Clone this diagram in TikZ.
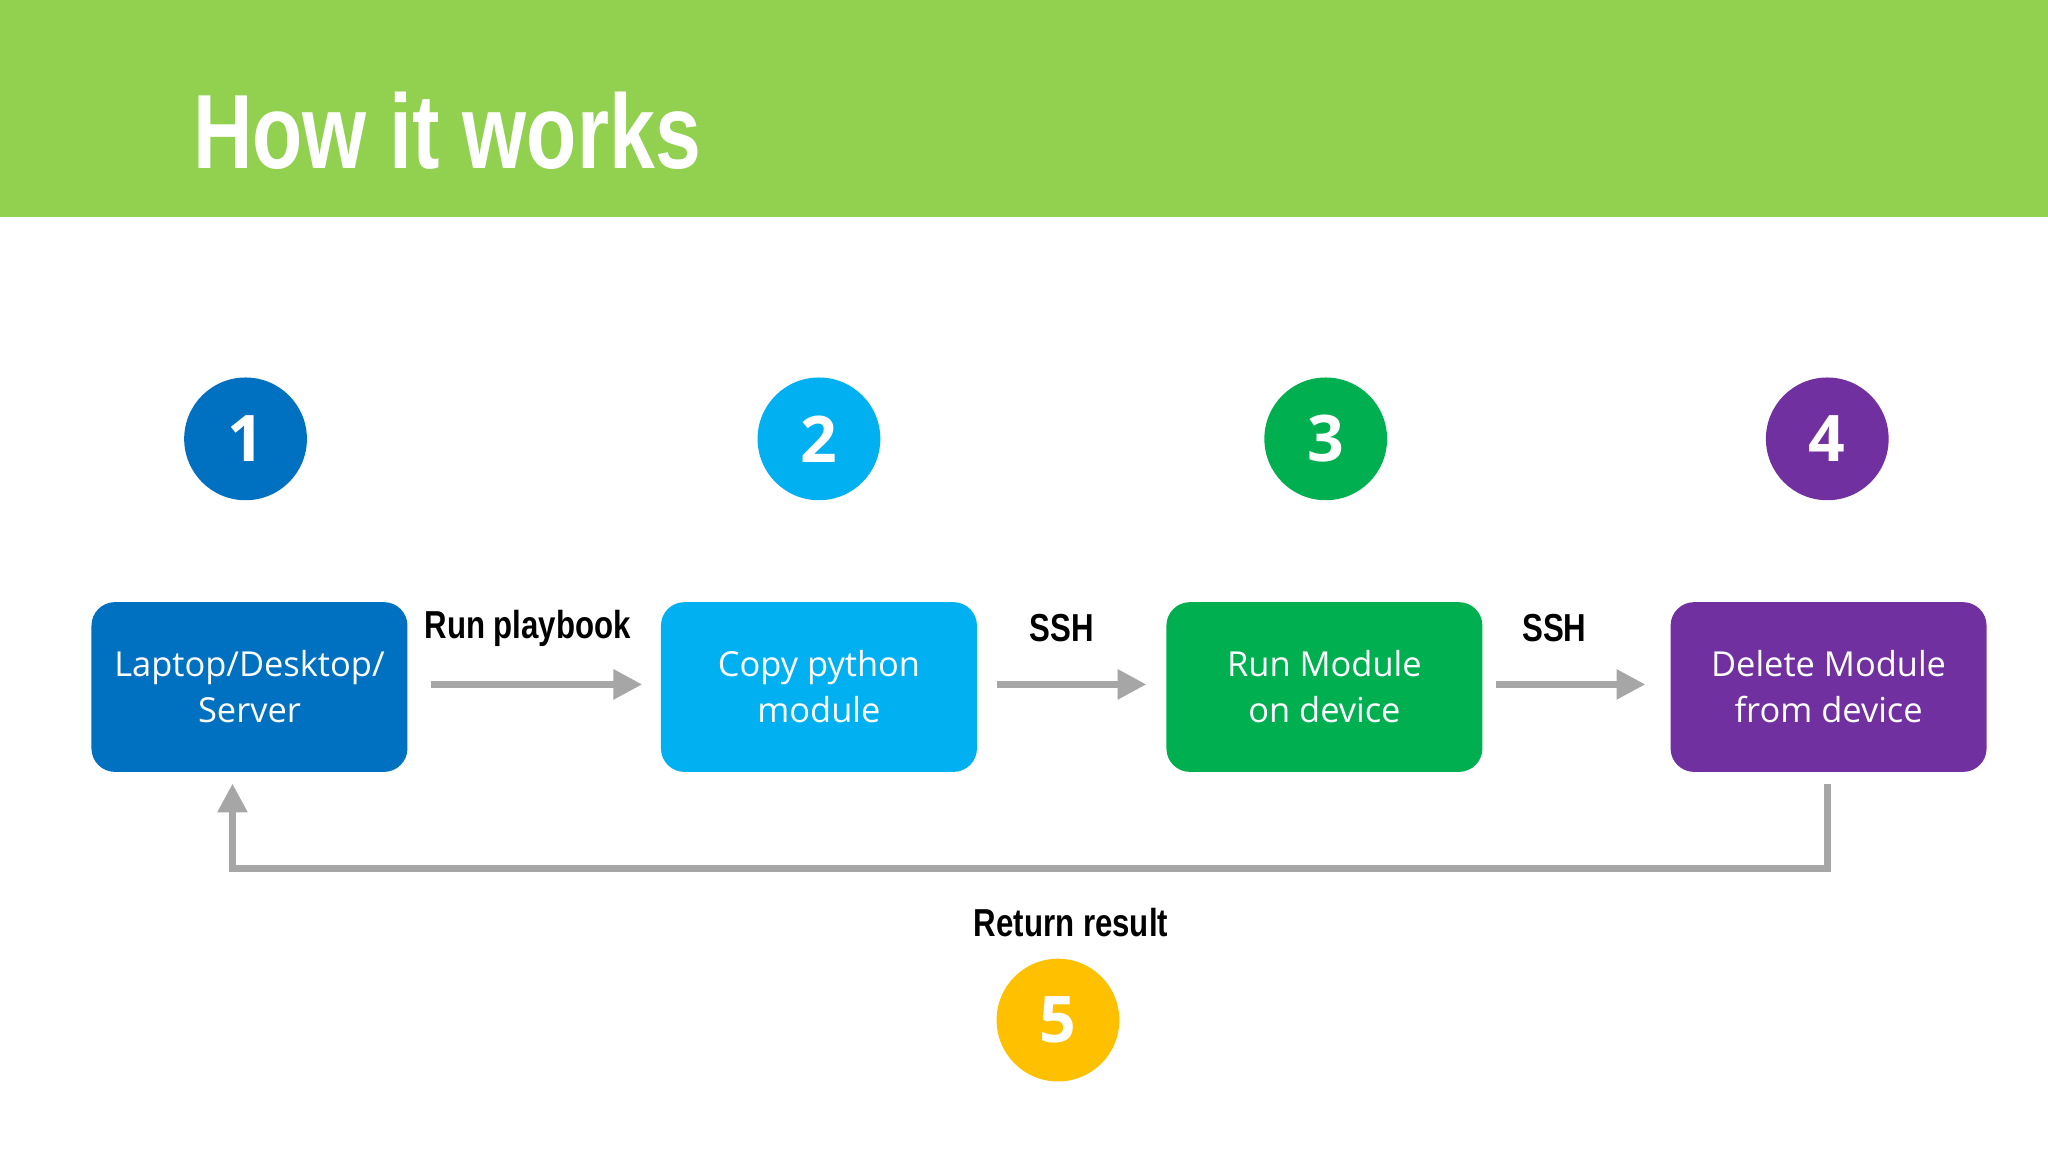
\documentclass[tikz,border=0pt]{standalone}
\usepackage{fontspec}
\setmainfont{Open Sans}
\newfontfamily\titlef{Liberation Sans}
\usetikzlibrary{arrows.meta}
\definecolor{band}{HTML}{92D050}
\definecolor{cA}{HTML}{0070C0}
\definecolor{cB}{HTML}{00B0F0}
\definecolor{cC}{HTML}{00B050}
\definecolor{cD}{HTML}{7030A0}
\definecolor{cE}{HTML}{FFC000}
\definecolor{arr}{HTML}{A6A6A6}
\begin{document}
\begin{tikzpicture}[x=0.02cm,y=-0.02cm,
  box/.style={rounded corners=0.36cm,minimum width=4.84cm,minimum height=2.6cm,align=center,text=white,font=\fontsize{15}{20}\selectfont},
  num/.style={circle,minimum size=1.88cm,inner sep=0,text=white,font=\fontsize{28}{28}\selectfont\bfseries},
  lab/.style={font=\titlef\fontsize{17}{17}\selectfont\bfseries,xscale=0.8},
  ar/.style={draw=arr,line width=0.1cm,-{Triangle[length=0.44cm,width=0.44cm]}}]
\useasboundingbox (0,0) rectangle (1568,882);
\fill[white] (0,0) rectangle (1568,882);
\fill[band] (0,0) rectangle (1568,166);
\node[anchor=west,text=white,font=\titlef\fontsize{46}{46}\selectfont\bfseries,xscale=0.78] (title) at (143,100) {How it works};
\node[num,fill=cA] (n1) at (188,336) {1};
\node[num,fill=cB] (n2) at (627,336) {2};
\node[num,fill=cC] (n3) at (1015,336) {3};
\node[num,fill=cD] (n4) at (1399,336) {4};
\node[num,fill=cE] (n5) at (810,781) {5};
\node[box,fill=cA] (b1) at (191,526) {Laptop/Desktop/\\Server};
\node[box,fill=cB] (b2) at (627,526) {Copy python\\module};
\node[box,fill=cC] (b3) at (1014,526) {Run Module\\on device};
\node[box,fill=cD] (b4) at (1400,526) {Delete Module\\from device};
\draw[ar,shorten <=0.36cm,shorten >=0.28cm] (b1.east|-0,524) -- (b2.west|-0,524);
\draw[ar,shorten <=0.3cm,shorten >=0.3cm] (b2.east|-0,524) -- (b3.west|-0,524);
\draw[ar,shorten <=0.2cm,shorten >=0.38cm] (b3.east|-0,524) -- (b4.west|-0,524);
\coordinate (r1) at (1399,600);
\coordinate (r2) at (178,600);
\draw[ar] (r1) -- (1399,665) -- (178,665) -- (r2);
\node[lab] (l1) at (404,481) {Run playbook};
\node[lab] (l2) at (813,481) {SSH};
\node[lab] (l3) at (1190,481) {SSH};
\node[lab] (l4) at (820,706) {Return result};
\end{tikzpicture}
\end{document}
